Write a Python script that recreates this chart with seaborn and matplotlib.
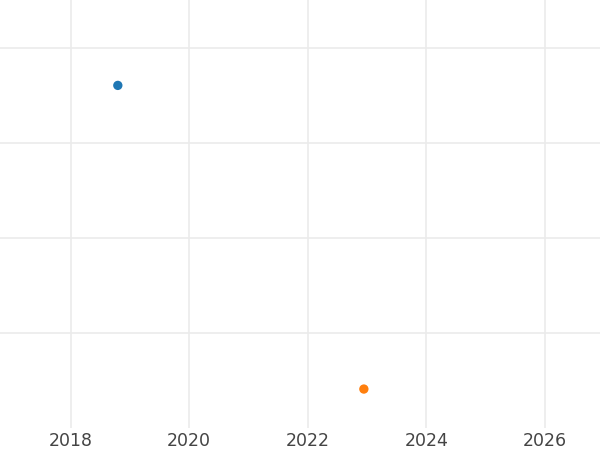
import pandas as pd
import matplotlib
matplotlib.use("Agg")
import matplotlib.pyplot as plt
import matplotlib.dates as mdates
import seaborn as sns

# data
dates = ["2018-10-18", "2022-12-12"]
values = [3.61, 0.41]
series = ["a", "b"]
colors = ["#1f77b4", "#ff7f0e"]

df = pd.DataFrame({"date": pd.to_datetime(dates), "value": values, "series": series})

sns.set_theme(style="whitegrid")
plt.rcParams["font.family"] = ["DejaVu Sans"]

fig = plt.figure(figsize=(6, 4.5), dpi=100)
ax = fig.add_axes([0, 0.049, 1, 0.951])

sns.scatterplot(data=df, x="date", y="value", hue="series", palette=colors,
                s=45, edgecolor="none", legend=False, ax=ax)

ax.set_xlim(pd.Timestamp("2016-10-22"), pd.Timestamp("2026-12-06"))
ax.set_ylim(0, 4.51)
ax.xaxis.set_major_locator(mdates.YearLocator(2))
ax.xaxis.set_major_formatter(mdates.DateFormatter("%Y"))
ax.set_yticks([1, 2, 3, 4])
ax.set_yticklabels([])
ax.grid(True, color="#ebebeb", linewidth=1.2)
ax.tick_params(axis="x", length=0, pad=3, labelsize=12.5, labelcolor="#444444")
ax.tick_params(axis="y", length=0)
ax.set_xlabel("")
ax.set_ylabel("")
for s in ax.spines.values():
    s.set_visible(False)

fig.savefig("out.png", dpi=100)
